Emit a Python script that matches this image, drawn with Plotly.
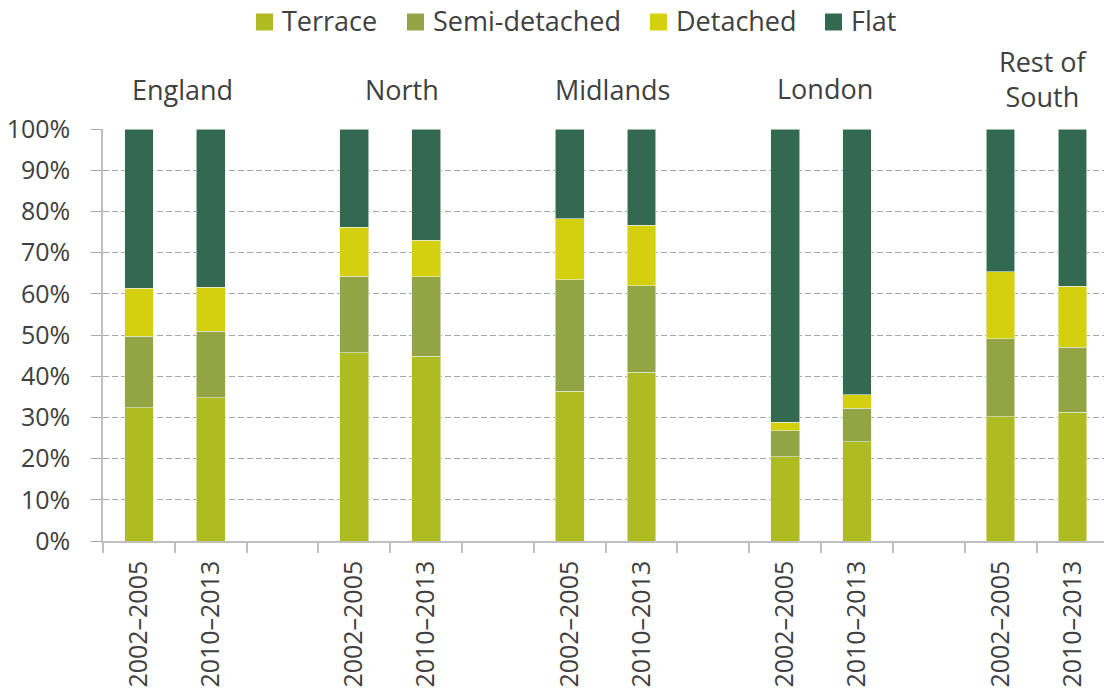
import plotly.graph_objects as go

regions = ["England", "North", "Midlands", "London", "Rest of<br>South"]
periods = ["2002\u20132005", "2010\u20132013"]

# share of each house type (%), order: region x period
terrace = [32.4, 34.8, 45.7, 44.8, 36.3, 40.9, 20.4, 24.1, 30.1, 31.2]
semi = [17.3, 16.1, 18.6, 19.4, 27.1, 21.1, 6.4, 8.1, 19.0, 15.8]
detached = [11.6, 10.7, 11.8, 8.8, 14.8, 14.6, 2.0, 3.3, 16.3, 14.8]
flat = [38.7, 38.4, 23.9, 27.0, 21.8, 23.4, 71.2, 64.5, 34.6, 38.2]

series = [("Terrace", terrace, "#AEBC21"),
          ("Semi-detached", semi, "#93A444"),
          ("Detached", detached, "#D4D00E"),
          ("Flat", flat, "#336950")]

# each region takes 3 slots: two bars and a gap
xpos = [g * 3 + p for g in range(len(regions)) for p in range(len(periods))]
xlabels = [p for _ in regions for p in periods]

FONT = "Open Sans"
TXT = "#404040"
GRID = "#A6A6A6"
AXIS = "#BFBFBF"

W, H = 1104, 695
ML, MT, MB = 103, 129, 154
PW, PH = W - ML, H - MT - MB


def px(x):  # pixel -> paper x
    return (x - ML) / PW


def py(y):  # pixel -> paper y
    return (H - MB - y) / PH


fig = go.Figure()
for name, vals, col in series:
    fig.add_trace(go.Bar(x=xpos, y=vals, name=name, width=0.4, showlegend=False,
                         marker=dict(color=col, line=dict(color="#E8EEE0", width=0.6))))

# legend drawn by hand: swatch left edges in pixels
legend_x = [256, 407, 650, 825]
for (name, _, col), lx in zip(series, legend_x):
    fig.add_shape(type="rect", xref="paper", yref="paper",
                  x0=px(lx), x1=px(lx + 17), y0=py(30.5), y1=py(13.5),
                  fillcolor=col, line=dict(width=0))
    fig.add_annotation(x=px(lx + 24), y=py(20.5), xref="paper", yref="paper",
                       xanchor="left", yanchor="middle", text=name, showarrow=False,
                       font=dict(family=FONT, size=27, color=TXT))

# region headings above each pair of bars
head_dx = [8, 12, 7, 4, 7]
head_dy = [19, 19, 19, 20, 12]
for g, reg in enumerate(regions):
    fig.add_annotation(x=g * 3 + 0.5, xref="x", y=1.0, yref="paper",
                       yshift=head_dy[g], xshift=head_dx[g], yanchor="bottom",
                       text=reg, showarrow=False,
                       font=dict(family=FONT, size=27, color=TXT))

fig.update_layout(
    barmode="stack",
    width=W, height=H,
    plot_bgcolor="white", paper_bgcolor="white",
    margin=dict(l=ML, r=0, t=MT, b=MB),
    font=dict(family=FONT, size=25, color=TXT),
    showlegend=False,
    xaxis=dict(range=[-0.5, 13.44], tickmode="array", tickvals=xpos, ticktext=xlabels,
               tickangle=-90, ticks="", showgrid=False, zeroline=False, automargin=False,
               showline=True, linecolor=AXIS, linewidth=1.5, ticklabelstandoff=8,
               tickfont=dict(family=FONT, size=25, color=TXT),
               minor=dict(ticks="outside", tick0=-0.5, dtick=1, ticklen=10,
                          tickcolor=AXIS, tickwidth=1.5, showgrid=False)),
    yaxis=dict(range=[0, 100], dtick=10, ticksuffix="%", showgrid=True,
               gridcolor=GRID, griddash="6px,3px", gridwidth=1, automargin=False,
               ticks="outside", ticklen=10, tickcolor=GRID, ticklabelstandoff=16,
               showline=True, linecolor=AXIS, linewidth=1.5, zeroline=False,
               tickfont=dict(family=FONT, size=25, color=TXT)),
)

fig.write_html("out.html", config={"displayModeBar": False},
               post_script="document.body.style.margin='0';")
